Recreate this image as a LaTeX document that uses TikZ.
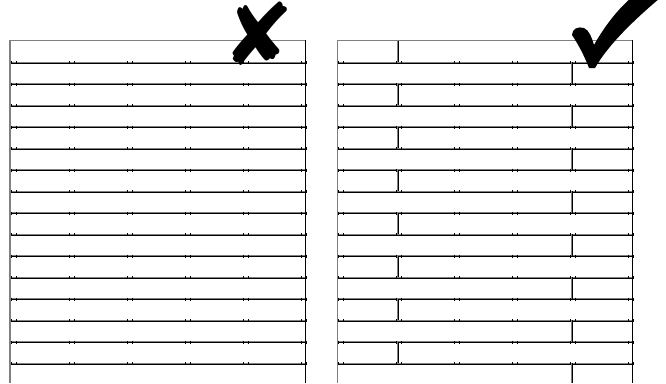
\documentclass[tikz,border=0pt]{standalone}
\usepackage{fontspec}
\newfontfamily\dingfont{DejaVu Sans}
\begin{document}
\begin{tikzpicture}[x=1pt,y=-1pt,
  grayline/.style={draw=black!50,line width=1.3pt},
  blackline/.style={draw=black,line width=0.9pt},
  tickmark/.style={draw=black,line width=0.8pt},
  signmark/.style={inner sep=0pt,text=black}]
\useasboundingbox (0,0) rectangle (666,383);
\fill[white] (0,0) rectangle (666,383);
% boards of both panels
\foreach \xa/\xb in {10/305.5, 337.8/632.7} {
  \draw[grayline] (\xa,40.7) -- (\xb,40.7);
  \foreach \k in {1,...,15} {
    \pgfmathsetmacro\yy{40.7+21.5*\k}
    \draw[grayline] (\xa,\yy) -- (\xb,\yy);
    \draw[blackline] (\xa,\yy+1) -- (\xb,\yy+1);
    \foreach \j in {0,...,5} {
      \draw[tickmark] (\xa+58*\j+1,\yy-1.2) -- (\xa+58*\j+1,\yy+1.8);
      \draw[tickmark] (\xa+58*\j+6,\yy-1.2) -- (\xa+58*\j+6,\yy+1.8);
    }
  }
  \draw[grayline] (\xa,40) -- (\xa,383);
  \draw[blackline] (\xb,40) -- (\xb,383);
}
% staggered joints of the right panel
\foreach \i in {0,...,15} {
  \pgfmathsetmacro\ytop{40.7+21.5*\i}
  \pgfmathsetmacro\ybot{min(40.7+21.5*(\i+1),383)}
  \pgfmathsetmacro\xj{mod(\i,2)==0 ? 398.6 : 572.4}
  \draw[grayline] (\xj-1.2,\ytop) -- (\xj-1.2,\ybot);
  \draw[blackline] (\xj,\ytop) -- (\xj,\ybot);
}
% marks
\node[signmark,font=\dingfont\fontsize{86}{86}\selectfont] (cross) at (259,34) {✘};
\fill[black] (572,35) .. controls (572,29) and (578,26) .. (584,28)
  .. controls (589,30) and (592,38) .. (594,45)
  .. controls (604,27) and (618,9) .. (631,-2)
  -- (660,-2)
  .. controls (634,20) and (608,45) .. (595,68)
  -- (589,68)
  .. controls (584,55) and (578,44) .. (572,35) -- cycle;
\end{tikzpicture}
\end{document}
